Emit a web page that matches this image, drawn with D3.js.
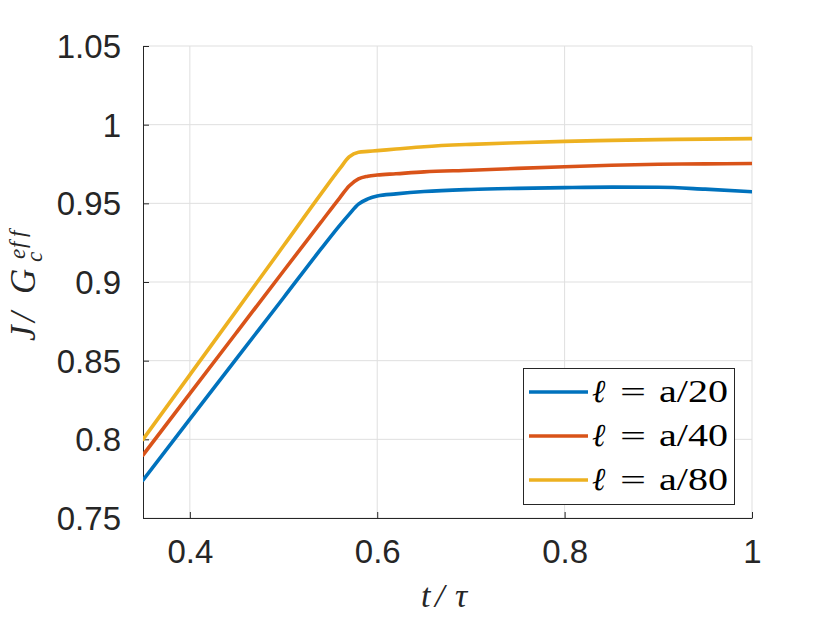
<!DOCTYPE html>
<html><head><meta charset="utf-8">
<script src="https://cdn.jsdelivr.net/npm/d3@7"></script>
<style>body{margin:0;background:#fff}svg{display:block}</style>
</head><body><svg id="c" width="830" height="623"></svg>
<script>
const tValues   = [0.35, 0.40, 0.45, 0.50, 0.54, 0.56, 0.57, 0.58, 0.59, 0.60, 0.62, 0.65, 0.70, 0.75, 0.80, 0.85, 0.90, 0.95, 1.00];
const seriesA20 = [0.774, 0.8128, 0.8515, 0.890, 0.921, 0.936, 0.943, 0.9495, 0.9528, 0.9547, 0.956, 0.9575, 0.9588, 0.9595, 0.960, 0.9603, 0.9602, 0.959, 0.9574];
const seriesA40 = [0.790, 0.829, 0.868, 0.907, 0.938, 0.9535, 0.961, 0.9655, 0.9672, 0.968, 0.9688, 0.970, 0.971, 0.9722, 0.9733, 0.9742, 0.9748, 0.9751, 0.9753];
const seriesA80 = [0.800, 0.841, 0.882, 0.923, 0.956, 0.972, 0.9795, 0.9825, 0.983, 0.9835, 0.9845, 0.986, 0.9875, 0.9885, 0.9894, 0.990, 0.9905, 0.9908, 0.9911];
const seriesLabels = ["a/20", "a/40", "a/80"];
const xTicks = [0.4, 0.6, 0.8, 1];
const xTickLabels = ["0.4", "0.6", "0.8", "1"];
const yTicks = [0.75, 0.8, 0.85, 0.9, 0.95, 1, 1.05];
const yTickLabels = ["0.75", "0.8", "0.85", "0.9", "0.95", "1", "1.05"];

const colors = ["#0072BD", "#D95319", "#EDB120"];
const allSeries = [seriesA20, seriesA40, seriesA80];
const axisColor = "#262626";

const svg = d3.select("#c");
const L = 143, R = 752, T = 46, B = 518;
const x = d3.scaleLinear().domain([0.35, 1]).range([L, R]);
const y = d3.scaleLinear().domain([0.75, 1.05]).range([B, T]);

// grid
const g = svg.append("g");
g.selectAll(".gx").data(xTicks).join("line")
  .attr("x1", d => x(d)).attr("x2", d => x(d)).attr("y1", T).attr("y2", B)
  .attr("stroke", "#dfdfdf").attr("stroke-width", 1);
g.selectAll(".gy").data(yTicks).join("line")
  .attr("y1", d => y(d)).attr("y2", d => y(d)).attr("x1", L).attr("x2", R)
  .attr("stroke", "#dfdfdf").attr("stroke-width", 1);

// axes
const xAxis = d3.axisBottom(x).tickValues(xTicks).tickSizeInner(-6).tickSizeOuter(0)
  .tickFormat((d, i) => xTickLabels[i]).tickPadding(14);
const yAxis = d3.axisLeft(y).tickValues(yTicks).tickSizeInner(-6).tickSizeOuter(0)
  .tickFormat((d, i) => yTickLabels[i]).tickPadding(22);

const gx = svg.append("g").attr("transform", `translate(0,${B})`).call(xAxis);
const gy = svg.append("g").attr("transform", `translate(${L},0)`).call(yAxis);
[gx, gy].forEach(a => {
  a.select(".domain").attr("stroke", axisColor).attr("stroke-width", 1);
  a.selectAll(".tick line").attr("stroke", axisColor).attr("stroke-width", 1);
  a.selectAll(".tick text").attr("fill", axisColor)
    .style("font-family", "'Liberation Sans', Arial, sans-serif").style("font-size", "33px");
});
gx.selectAll(".tick text").attr("dy", "0.71em").attr("y", 22);
gy.selectAll(".tick text").attr("dy", "0.35em");

// clip + lines
svg.append("clipPath").attr("id", "clip").append("rect")
  .attr("x", L).attr("y", T).attr("width", R - L).attr("height", B - T);
const line = d3.line().x(d => x(d[0])).y(d => y(d[1])).curve(d3.curveMonotoneX);
svg.append("g").attr("clip-path", "url(#clip)")
  .selectAll("path").data(allSeries).join("path")
  .attr("d", s => line(tValues.map((t, i) => [t, s[i]])))
  .attr("fill", "none").attr("stroke", (d, i) => colors[i])
  .attr("stroke-width", 3.6).attr("stroke-linejoin", "round").attr("stroke-linecap", "round");

// legend
const serif = "'Liberation Serif', 'DejaVu Serif', serif";
const lg = svg.append("g");
lg.append("rect").attr("x", 523.5).attr("y", 368.5).attr("width", 211).attr("height", 136)
  .attr("fill", "#fff").attr("stroke", axisColor).attr("stroke-width", 1);
const rowY = [392, 436, 480];
seriesLabels.forEach((lab, i) => {
  const yy = rowY[i];
  lg.append("line").attr("x1", 529).attr("x2", 588).attr("y1", yy).attr("y2", yy)
    .attr("stroke", colors[i]).attr("stroke-width", 3.6);
  lg.append("text").attr("x", 592).attr("y", yy + 10).text("ℓ")
    .style("font-family", serif).style("font-style", "italic").style("font-size", "32px")
    .attr("fill", "#000");
  lg.append("text").attr("x", 620).attr("y", yy + 10).text("=")
    .attr("textLength", 26).attr("lengthAdjust", "spacingAndGlyphs")
    .style("font-family", serif).style("font-size", "30px").attr("fill", "#000");
  lg.append("text").attr("x", 659).attr("y", yy + 10).text(lab)
    .attr("textLength", 69).attr("lengthAdjust", "spacingAndGlyphs")
    .style("font-family", serif).style("font-size", "31px").attr("fill", "#000");
});

// x label: t / tau
const xl = svg.append("text").attr("y", 607)
  .style("font-family", serif).style("font-style", "italic").style("font-size", "34px")
  .attr("fill", axisColor);
[{t: "t", x: 421}, {t: "/", x: 435}, {t: "τ", x: 455}].forEach(p =>
  xl.append("tspan").attr("x", p.x).text(p.t));

// y label (rotated)
const yl = svg.append("text").attr("transform", "translate(35,0) rotate(-90)")
  .style("font-family", serif).style("font-style", "italic").attr("fill", axisColor);
const parts = [
  {t: "J", x: -341, y: 0, s: 35},
  {t: "/", x: -322, y: 0, s: 35},
  {t: "G", x: -294, y: 0, s: 35},
  {t: "c", x: -262, y: 7, s: 23},
  {t: "e", x: -259, y: -10, s: 23},
  {t: "f", x: -248, y: -10, s: 23},
  {t: "f", x: -237, y: -10, s: 23}
];
parts.forEach(p => {
  yl.append("tspan").attr("x", p.x).attr("y", p.y).style("font-size", p.s + "px").text(p.t);
});
</script>
</body></html>
